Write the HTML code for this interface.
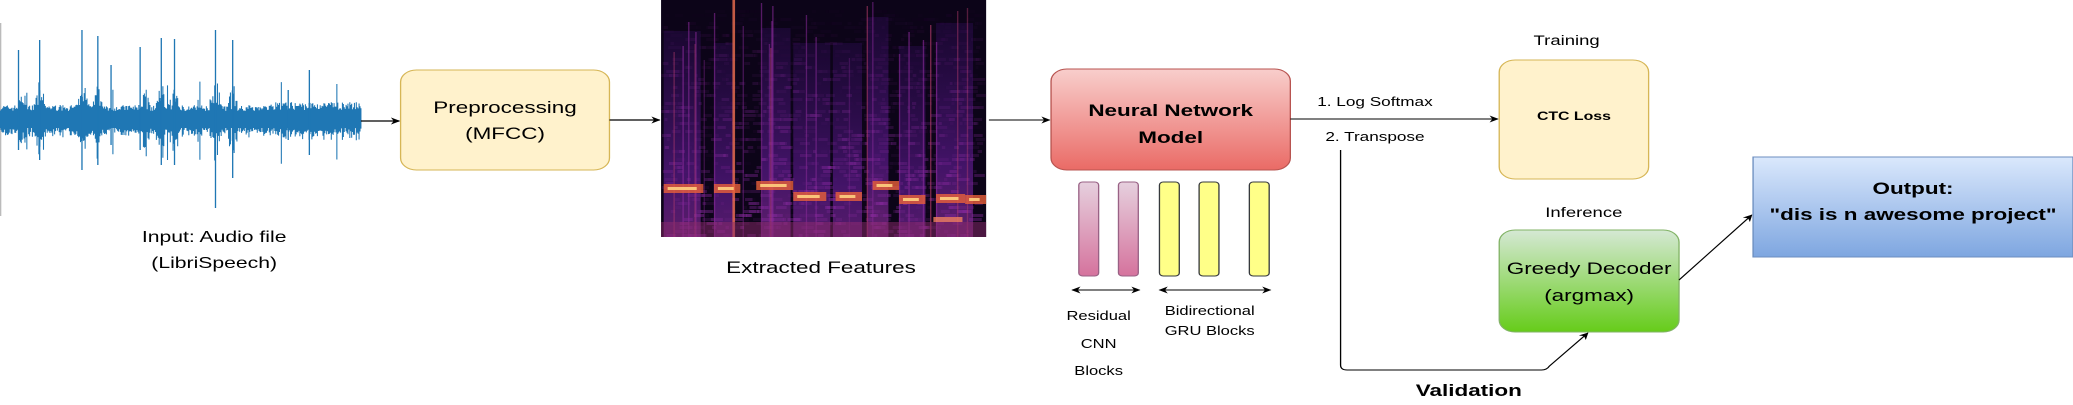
<!DOCTYPE html>
<html><head><meta charset="utf-8"><style>
html,body{margin:0;padding:0;background:#fff;width:2073px;height:405px;overflow:hidden}
svg{display:block}
text{font-family:"Liberation Sans",Arial,sans-serif;fill:#000}
</style></head><body>
<svg id="s" width="2073" height="405" viewBox="0 0 1568 405" preserveAspectRatio="none" xmlns="http://www.w3.org/2000/svg">
<defs>
<marker id="ar" viewBox="0 0 10 10" refX="9" refY="5" markerWidth="7" markerHeight="7" orient="auto-start-reverse" markerUnits="userSpaceOnUse"><path d="M0,0 L10,5 L0,10 L3,5 z" fill="#000"/></marker>
<linearGradient id="gr" x1="0" y1="0" x2="0" y2="1"><stop offset="0" stop-color="#f8cecc"/><stop offset="1" stop-color="#ea6b66"/></linearGradient>
<linearGradient id="gg" x1="0" y1="0" x2="0" y2="1"><stop offset="0" stop-color="#d5e8d4"/><stop offset="1" stop-color="#66cc1a"/></linearGradient>
<linearGradient id="gb" x1="0" y1="0" x2="0" y2="1"><stop offset="0" stop-color="#dae8fc"/><stop offset="1" stop-color="#7ea6e0"/></linearGradient>
<linearGradient id="gp" x1="0" y1="0" x2="0" y2="1"><stop offset="0" stop-color="#e6d0de"/><stop offset="1" stop-color="#d5739d"/></linearGradient>
<linearGradient id="col" x1="0" y1="0" x2="0" y2="1"><stop offset="0" stop-color="#3a0f6a" stop-opacity="0.3"/><stop offset="0.6" stop-color="#5a1a8a" stop-opacity="0.7"/><stop offset="1" stop-color="#7a2a7a" stop-opacity="0.85"/></linearGradient>
<clipPath id="cp"><rect x="500" y="0" width="246" height="237"/></clipPath>
</defs>
<line x1="0.5" y1="23" x2="0.5" y2="216" stroke="#bbb" stroke-width="1"/>
<g id="wave"><rect x="0" y="112" width="273" height="16" fill="#1f77b4"/></g>
<g id="spec" clip-path="url(#cp)"><rect x="500" y="0" width="246" height="237" fill="#0c0418"/></g>

<line x1="273" y1="121" x2="302" y2="121" stroke="#000" stroke-width="1.2" marker-end="url(#ar)"/>
<rect x="303" y="70" width="158" height="100" rx="12" fill="#fff2cc" stroke="#d6b656"/>
<text x="382" y="113" font-size="17" text-anchor="middle">Preprocessing</text>
<text x="382" y="139" font-size="17" text-anchor="middle">(MFCC)</text>
<line x1="461" y1="120" x2="499" y2="120" stroke="#000" stroke-width="1.2" marker-end="url(#ar)"/>
<text x="162" y="242" font-size="16" text-anchor="middle">Input: Audio file</text>
<text x="162" y="268" font-size="16" text-anchor="middle">(LibriSpeech)</text>
<text x="621" y="273" font-size="17" text-anchor="middle">Extracted Features</text>

<line x1="748" y1="120" x2="794" y2="120" stroke="#000" stroke-width="1" marker-end="url(#ar)"/>
<rect x="795" y="69" width="181" height="101" rx="12" fill="url(#gr)" stroke="#b85450"/>
<text x="885.5" y="116" font-size="17" font-weight="bold" text-anchor="middle">Neural Network</text>
<text x="885.5" y="143" font-size="17" font-weight="bold" text-anchor="middle">Model</text>

<rect x="816" y="182" width="15" height="94" rx="3" fill="url(#gp)" stroke="#996185"/>
<rect x="846" y="182" width="15" height="94" rx="3" fill="url(#gp)" stroke="#996185"/>
<rect x="877" y="182" width="15" height="94" rx="3" fill="#ffff88" stroke="#36393d"/>
<rect x="907" y="182" width="15" height="94" rx="3" fill="#ffff88" stroke="#36393d"/>
<rect x="945" y="182" width="15" height="94" rx="3" fill="#ffff88" stroke="#36393d"/>
<line x1="811" y1="290" x2="862" y2="290" stroke="#000" marker-start="url(#ar)" marker-end="url(#ar)"/>
<line x1="877" y1="290" x2="961" y2="290" stroke="#000" marker-start="url(#ar)" marker-end="url(#ar)"/>
<text x="831" y="320" font-size="12.5" text-anchor="middle">Residual</text>
<text x="831" y="348" font-size="12.5" text-anchor="middle">CNN</text>
<text x="831" y="375" font-size="12.5" text-anchor="middle">Blocks</text>
<text x="915" y="315" font-size="12.5" text-anchor="middle">Bidirectional</text>
<text x="915" y="335" font-size="12.5" text-anchor="middle">GRU Blocks</text>

<line x1="976" y1="119" x2="1133" y2="119" stroke="#000" marker-end="url(#ar)"/>
<text x="1040" y="106" font-size="13" text-anchor="middle">1. Log Softmax</text>
<text x="1040" y="141" font-size="13" text-anchor="middle">2. Transpose</text>

<text x="1185" y="45" font-size="14" text-anchor="middle">Training</text>
<rect x="1134" y="60" width="113" height="119" rx="12" fill="#fff2cc" stroke="#d6b656"/>
<text x="1190.5" y="120" font-size="12" font-weight="bold" text-anchor="middle">CTC Loss</text>

<text x="1198" y="217" font-size="14" text-anchor="middle">Inference</text>
<rect x="1134" y="230" width="136" height="102" rx="12" fill="url(#gg)" stroke="#82b366"/>
<text x="1202" y="274" font-size="17" text-anchor="middle">Greedy Decoder</text>
<text x="1202" y="301" font-size="17" text-anchor="middle">(argmax)</text>

<rect x="1326" y="157" width="242" height="100" fill="url(#gb)" stroke="#6c8ebf"/>
<text x="1447" y="194" font-size="17" font-weight="bold" text-anchor="middle">Output:</text>
<text x="1447" y="220" font-size="17" font-weight="bold" text-anchor="middle">"dis is n awesome project"</text>
<line x1="1270" y1="280" x2="1325" y2="215" stroke="#000" marker-end="url(#ar)"/>

<path d="M1014,150 L1014,365 Q1014,370 1019,370 L1166,370 Q1170,370 1172,366 L1201,333" fill="none" stroke="#000" marker-end="url(#ar)"/>
<text x="1111" y="396" font-size="17" font-weight="bold" text-anchor="middle">Validation</text>
</svg>
<script>
(function(){
var NS="http://www.w3.org/2000/svg",seed=7;
function r(){seed=(seed*16807)%2147483647;return seed/2147483647;}
function el(t,a,p){var e=document.createElementNS(NS,t);for(var k in a)e.setAttribute(k,a[k]);p.appendChild(e);return e;}
var w=document.getElementById("wave");
var bursts=[[18,3],[30,3],[63,3],[74,3],[109,3],[122,3],[132,3],[163,4],[176,3]];
var d="";
for(var x=0;x<273;x+=0.7){
 var a=9+r()*6;
 if(x>205)a=10+r()*8;
 for(var i=0;i<bursts.length;i++){var dx=Math.abs(x-bursts[i][0]);if(dx<5)a+=bursts[i][1]*(5-dx)*r()*1.8;}
 if(r()<0.015)a+=r()*25;
 d+="M"+x.toFixed(1)+","+(120-a).toFixed(1)+"V"+(120+a*(0.7+r()*0.5)).toFixed(1);
}
el("path",{d:d,stroke:"#1f77b4","stroke-width":"0.8",fill:"none"},w);
[[14,50,150],[30,40,160],[62,30,170],[74,36,165],[84,65,145],[106,47,150],[122,38,165],[132,39,165],[163,30,208],[176,40,178],[218,90,140],[234,70,155]].forEach(function(s){el("line",{x1:s[0],y1:s[1],x2:s[0],y2:s[2],stroke:"#1f77b4","stroke-width":"1"},w);});
var g=document.getElementById("spec");
var cols=[[502,530],[540,555],[576,598],[600,628],[630,652],[656,672],[680,700],[708,736]];
cols.forEach(function(c){el("rect",{x:c[0],y:(15+r()*40).toFixed(0),width:c[1]-c[0],height:237,fill:"url(#col)"},g);});
for(var y=10;y<237;y+=4){for(var i=0;i<25;i++){var x=500+r()*240;var op=(y/237)*0.5*r();el("rect",{x:x.toFixed(1),y:y,width:(2+r()*8).toFixed(1),height:3,fill:"#8a2aa0",opacity:op.toFixed(2)},g);}}
for(var i=0;i<25;i++){var x=500+r()*246;el("rect",{x:x.toFixed(1),y:(r()*60).toFixed(0),width:1,height:237,fill:r()<0.5?"#c04070":"#8a2a9a",opacity:(0.3+r()*0.4).toFixed(2)},g);}
el("rect",{x:554,y:0,width:2,height:237,fill:"#f07050",opacity:0.8},g);
var band=[[502,532,188],[540,560,188],[572,600,185],[600,625,196],[632,652,196],[660,680,185],[680,700,199],[708,730,198],[730,746,199]];
band.forEach(function(b){el("rect",{x:b[0],y:b[2]-4,width:b[1]-b[0],height:9,fill:"#e8603a",opacity:0.8},g);el("rect",{x:b[0]+3,y:b[2]-1,width:b[1]-b[0]-8,height:3,fill:"#ffd080",opacity:0.9},g);});
el("rect",{x:706,y:217,width:22,height:5,fill:"#f08060",opacity:0.8},g);
el("rect",{x:500,y:222,width:246,height:15,fill:"#8a2a6a",opacity:0.5},g);
})();
</script>
</body></html>
